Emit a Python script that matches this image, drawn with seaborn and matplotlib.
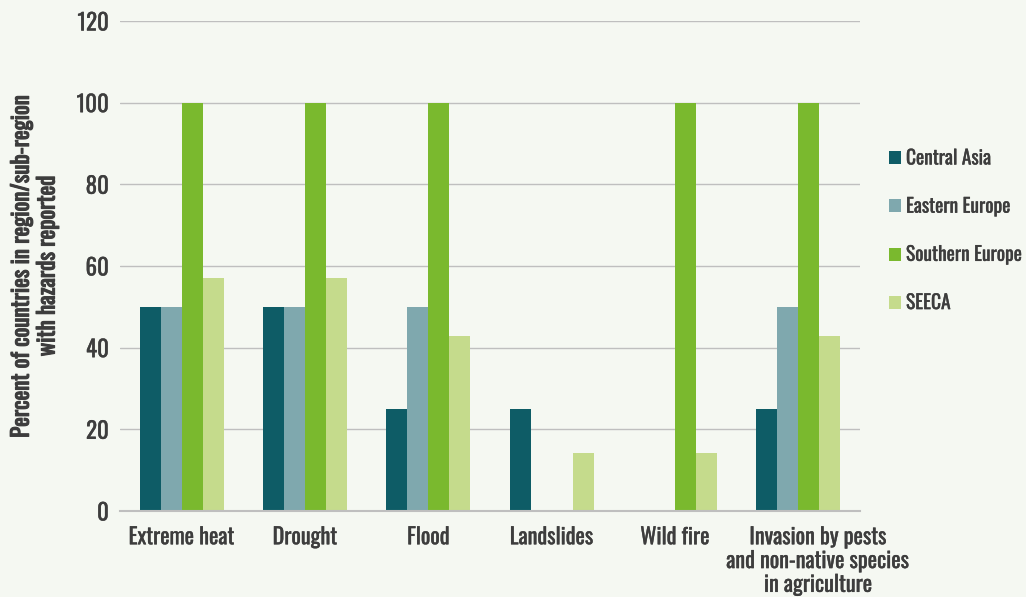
import matplotlib
matplotlib.use("Agg")
import matplotlib.pyplot as plt
import matplotlib.transforms as mtransforms
import matplotlib.patheffects as pe
import seaborn as sns
import pandas as pd

categories = ["Extreme heat", "Drought", "Flood", "Landslides", "Wild fire",
              "Invasion by pests\nand non-native species\nin agriculture"]
series_names = ["Central Asia", "Eastern Europe", "Southern Europe", "SEECA"]
central_asia = [50, 50, 25, 25, 0, 25]
eastern_europe = [50, 50, 50, 0, 0, 50]
southern_europe = [100, 100, 100, 0, 100, 100]
seeca = [57.1, 57.1, 42.9, 14.3, 14.3, 42.9]
yticks = [0, 20, 40, 60, 80, 100, 120]
colors = ["#0e5c66", "#7fa8ae", "#7ab92e", "#c5db8c"]

values = [central_asia, eastern_europe, southern_europe, seeca]
rows = []
for name, vals in zip(series_names, values):
    for c, v in zip(categories, vals):
        rows.append({"category": c, "series": name, "value": v})
df = pd.DataFrame(rows)

bg = "#f5f8f2"
txt = "#3d3d3d"
sns.set_theme(style="white")
plt.rcParams['font.family'] = ['Oswald', 'DejaVu Sans']

fig = plt.figure(figsize=(10.26, 5.97), dpi=100, facecolor=bg)
ax = fig.add_axes([120/1026, 1-511/597, 740/1026, 490/597])
ax.set_facecolor(bg)

sns.barplot(data=df, x="category", y="value", hue="series", order=categories,
            hue_order=series_names, palette=colors, width=0.68, saturation=1,
            edgecolor="none", linewidth=0, ax=ax, legend=True)

ax.set_ylim(0, 120)
ax.set_yticks(yticks)
ax.set_xlim(-0.5, len(categories) - 0.5)
ax.yaxis.grid(True, color="#bfbfbf", linewidth=1.0)
ax.set_axisbelow(True)
for s in ["top", "right", "left"]:
    ax.spines[s].set_visible(False)
ax.spines["bottom"].set_color("#bfbfbf")
ax.spines["bottom"].set_linewidth(1.5)
ax.tick_params(axis="x", length=0, colors=txt, labelsize=16, pad=11)
ax.tick_params(axis="y", length=0, colors=txt, labelsize=16.5, pad=8)
regular = [pe.withStroke(linewidth=0.25, foreground=txt)]
bold = [pe.withStroke(linewidth=0.8, foreground=txt)]
xlabels = ax.get_xticklabels()
for lbl in xlabels:
    lbl.set_linespacing(1.1)
    lbl.set_path_effects(regular)
for lbl in ax.get_yticklabels():
    lbl.set_path_effects(regular)
# last label sits slightly right of its group in the reference
xlabels[-1].set_transform(xlabels[-1].get_transform() +
                          mtransforms.ScaledTranslation(20/100, 0, fig.dpi_scale_trans))
ax.set_xlabel("")
ax.set_ylabel("Percent of countries in region/sub-region\nwith hazards reported",
              fontsize=16.5, fontweight="bold", color=txt, linespacing=1.15)
ax.yaxis.label.set_path_effects(bold)
ax.yaxis.set_label_coords(-0.083, 0.5)

handles, labels = ax.get_legend_handles_labels()
leg = ax.legend(handles, labels, loc="upper left", bbox_to_anchor=(871/1026, 1-130/597),
                bbox_transform=fig.transFigure, frameon=False, fontsize=14,
                labelspacing=1.45, handlelength=0.65, handleheight=0.65, handletextpad=0.25)
for t in leg.get_texts():
    t.set_color(txt)
    t.set_path_effects(regular)

fig.savefig("out.png", dpi=100, facecolor=bg)
